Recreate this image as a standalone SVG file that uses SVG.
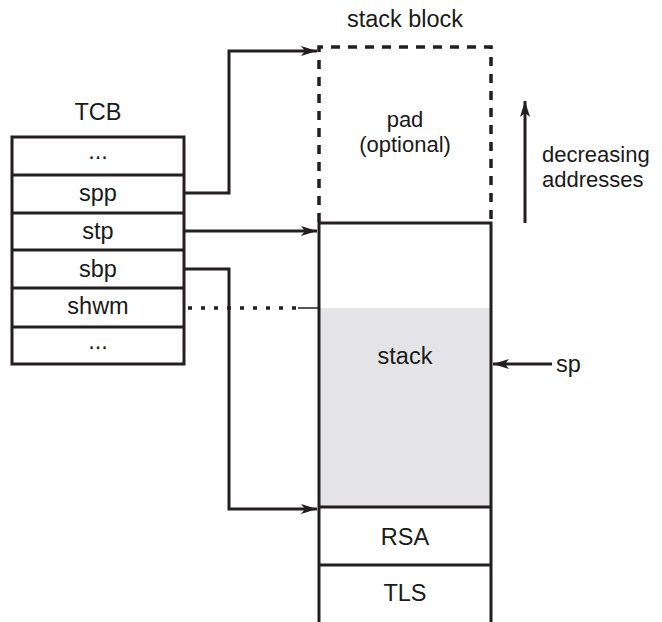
<svg xmlns="http://www.w3.org/2000/svg" width="662" height="622" viewBox="0 0 662 622">
<style>
text{font-family:"Liberation Sans",Arial,sans-serif;font-size:23.5px;fill:#1a1a1a}
.c{text-anchor:middle}
.two{font-size:22px}
.box{fill:#fff;stroke:#231f20;stroke-width:3}
.ln{fill:none;stroke:#231f20;stroke-width:3}
.dash{fill:none;stroke:#231f20;stroke-width:3.5;stroke-dasharray:9 8}
.dot{fill:none;stroke:#231f20;stroke-width:3.5;stroke-dasharray:4 9}
</style>
<defs>
<marker id="ah" viewBox="0 0 16 10" refX="16" refY="5" markerWidth="16" markerHeight="10" markerUnits="userSpaceOnUse" orient="auto">
<path d="M0,0 L16,5 L0,10 L4,5 Z" fill="#231f20"/>
</marker>
</defs>
<rect width="662" height="622" fill="#fff"/>
<g id="tcb">
<text class="c" x="98" y="120">TCB</text>
<rect class="box" x="12" y="137" width="172" height="227"/>
<line class="ln" x1="12" y1="175" x2="184" y2="175"/>
<line class="ln" x1="12" y1="213" x2="184" y2="213"/>
<line class="ln" x1="12" y1="250" x2="184" y2="250"/>
<line class="ln" x1="12" y1="288" x2="184" y2="288"/>
<line class="ln" x1="12" y1="327" x2="184" y2="327"/>
<text class="c" x="98" y="159">...</text>
<text class="c" x="98" y="201">spp</text>
<text class="c" x="98" y="239">stp</text>
<text class="c" x="98" y="277">sbp</text>
<text class="c" x="98" y="314">shwm</text>
<text class="c" x="98" y="349">...</text>
</g>
<g id="stackblock">
<text class="c" x="405" y="27">stack block</text>
<path class="dash" d="M319,222 V47 H491 V222"/>
<text class="c two" x="405" y="127">pad<tspan x="405" dy="25">(optional)</tspan></text>
<rect x="319" y="308" width="172" height="199" fill="#e4e4e7"/>
<path class="ln" d="M319,622 V223 H491 V622"/>
<line class="ln" x1="319" y1="507" x2="491" y2="507"/>
<line class="ln" x1="319" y1="565" x2="491" y2="565"/>
<text class="c" x="405" y="364">stack</text>
<text class="c" x="405" y="545">RSA</text>
<text class="c" x="405" y="601">TLS</text>
</g>
<g id="direction">
<line class="ln" x1="525" y1="223" x2="525" y2="101" marker-end="url(#ah)"/>
<text class="two" x="542" y="162">decreasing<tspan x="542" dy="25">addresses</tspan></text>
</g>
<g id="sp">
<line class="ln" x1="552" y1="364" x2="493" y2="364" marker-end="url(#ah)"/>
<text x="556" y="372">sp</text>
</g>
<g id="connectors">
<path class="ln" d="M184,193 H229 V51 H317" marker-end="url(#ah)"/>
<line class="ln" x1="184" y1="231" x2="317" y2="231" marker-end="url(#ah)"/>
<path class="ln" d="M184,269 H229 V509 H317" marker-end="url(#ah)"/>
<line class="dot" x1="188" y1="308" x2="296" y2="308"/>
<line x1="298" y1="308" x2="319" y2="308" stroke="#231f20" stroke-width="1.5"/>
</g>
</svg>
